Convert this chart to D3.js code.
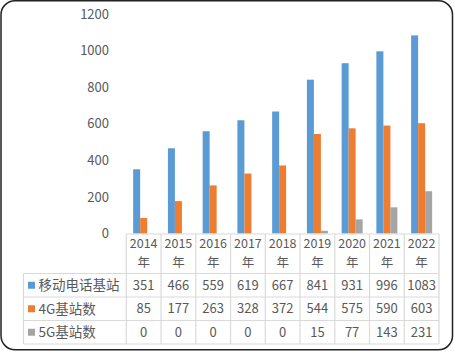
<!DOCTYPE html>
<html>
<head>
<meta charset="utf-8">
<script src="https://cdn.jsdelivr.net/npm/d3@7"></script>
<style>
  body { margin: 0; background: #fff; }
  svg text { font-family: "Noto Sans CJK SC", "Noto Sans", sans-serif; fill: #595959; }
</style>
</head>
<body>
<div id="chart"></div>
<script>
const years = ['2014', '2015', '2016', '2017', '2018', '2019', '2020', '2021', '2022'];
const seriesNames = ['移动电话基站', '4G基站数', '5G基站数'];
const mobileStations = [351, 466, 559, 619, 667, 841, 931, 996, 1083];
const lteStations = [85, 177, 263, 328, 372, 544, 575, 590, 603];
const nrStations = [0, 0, 0, 0, 0, 15, 77, 143, 231];
const yTicks = [0, 200, 400, 600, 800, 1000, 1200];
const colors = ['#5B9BD5', '#ED7D31', '#A5A5A5'];

const width = 454, height = 352;
const allSeries = [mobileStations, lteStations, nrStations];

const svg = d3.select('#chart').append('svg')
    .attr('width', width)
    .attr('height', height);

// outer frame
svg.append('rect')
    .attr('x', 1).attr('y', 0.75)
    .attr('width', 451.5).attr('height', 349)
    .attr('rx', 14)
    .attr('fill', '#fff')
    .attr('stroke', '#222')
    .attr('stroke-width', 1.5);

const xScale = d3.scaleBand()
    .domain(years)
    .range([126.3, 439]);

const yScale = d3.scaleLinear()
    .domain([0, 1200])
    .range([233.5, 14]);

const inner = d3.scaleBand()
    .domain(d3.range(3))
    .range([0, xScale.bandwidth()])
    .paddingInner(0)
    .paddingOuter(0.98);

// y axis labels only
const yAxis = d3.axisLeft(yScale)
    .tickValues(yTicks)
    .tickFormat(d3.format('d'))
    .tickSize(0)
    .tickPadding(17);

svg.append('g')
    .attr('transform', 'translate(126,0)')
    .call(yAxis)
    .call(g => g.select('.domain').remove())
    .selectAll('text')
    .attr('font-size', '13px')
    .attr('font-family', '"Noto Sans CJK SC", sans-serif')
    .attr('fill', '#595959');

// bars
allSeries.forEach((vals, si) => {
    svg.append('g').selectAll('rect')
        .data(vals)
        .enter()
        .append('rect')
        .attr('x', (d, i) => xScale(years[i]) + inner(si))
        .attr('y', d => yScale(d))
        .attr('width', inner.bandwidth())
        .attr('height', d => yScale(0) - yScale(d))
        .attr('fill', colors[si]);
});

// data table
const rowTop = 234, headerBottom = 273.5, rowH = 23.5;
const tableLeft = 23.5, tableRight = xScale.range()[1];
const grid = svg.append('g').attr('stroke', '#d9d9d9').attr('stroke-width', 1.2);

// top line across the year columns
grid.append('line')
    .attr('x1', xScale.range()[0]).attr('x2', tableRight)
    .attr('y1', rowTop).attr('y2', rowTop);

// horizontal row lines
d3.range(4).forEach(r => {
    const y = headerBottom + r * rowH;
    grid.append('line')
        .attr('x1', tableLeft).attr('x2', tableRight)
        .attr('y1', y).attr('y2', y);
});

// vertical lines
years.concat(['end']).forEach((yr, i) => {
    const x = xScale.range()[0] + i * xScale.step();
    grid.append('line')
        .attr('x1', x).attr('x2', x)
        .attr('y1', rowTop).attr('y2', headerBottom + 3 * rowH);
});
grid.append('line')
    .attr('x1', tableLeft).attr('x2', tableLeft)
    .attr('y1', headerBottom).attr('y2', headerBottom + 3 * rowH);

// header: year + 年
const header = svg.append('g').attr('text-anchor', 'middle').attr('font-size', '12.5px');
header.selectAll('.yr')
    .data(years)
    .enter()
    .append('text')
    .attr('x', d => xScale(d) + xScale.bandwidth() / 2)
    .attr('y', 247.5)
    .text(d => d);
header.selectAll('.nian')
    .data(years)
    .enter()
    .append('text')
    .attr('x', d => xScale(d) + xScale.bandwidth() / 2)
    .attr('y', 266.5)
    .text('年');

// rows
allSeries.forEach((vals, si) => {
    const cy = headerBottom + si * rowH + rowH / 2;
    const row = svg.append('g');
    row.append('rect')
        .attr('x', 28).attr('y', cy - 3.5)
        .attr('width', 7).attr('height', 7)
        .attr('fill', colors[si]);
    row.append('text')
        .attr('x', 38.5)
        .attr('y', cy)
        .attr('dy', '0.36em')
        .attr('font-size', '13.5px')
        .text(seriesNames[si]);
    row.selectAll('.val')
        .data(vals)
        .enter()
        .append('text')
        .attr('x', (d, i) => xScale(years[i]) + xScale.bandwidth() / 2)
        .attr('y', cy)
        .attr('dy', '0.36em')
        .attr('text-anchor', 'middle')
        .attr('font-size', '13px')
        .text(d => d);
});
</script>
</body>
</html>
